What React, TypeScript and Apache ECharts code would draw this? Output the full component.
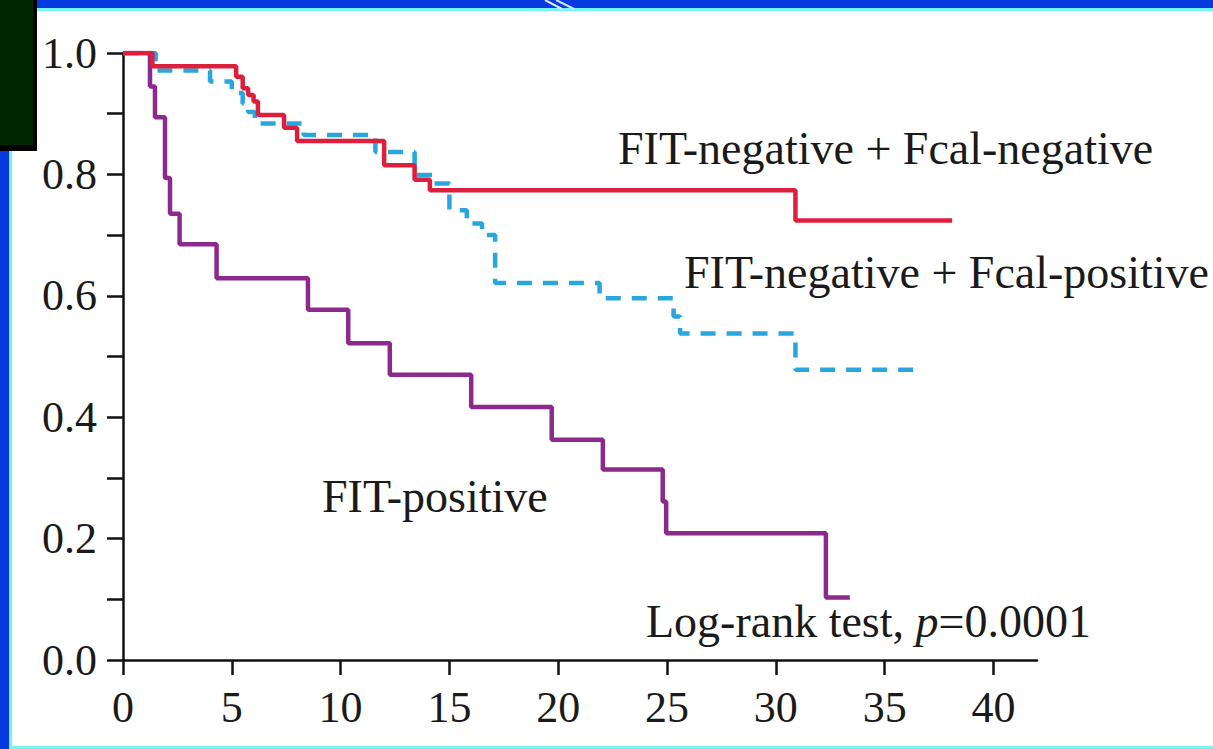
import React, { useEffect, useRef } from "react";
import * as echarts from "echarts";

// ---- data ----
const xTickValues = [0, 5, 10, 15, 20, 25, 30, 35, 40];

// FIT-negative + Fcal-negative (red, solid)
const negNegTimes = [0, 1.35, 5.2, 5.5, 5.75, 6.0, 6.2, 7.4, 8.0, 12.0, 13.4, 14.1, 30.9, 38.1];
const negNegSurv = [1.0, 0.978, 0.961, 0.942, 0.931, 0.92, 0.898, 0.877, 0.855, 0.815, 0.791, 0.774, 0.724, 0.724];

// FIT-negative + Fcal-positive (blue, dashed)
const negPosTimes = [0, 1.5, 4.0, 5.0, 5.5, 5.75, 6.06, 8.3, 11.6, 13.4, 14.2, 15.0, 15.8, 16.5, 17.1, 21.9, 25.3, 25.6, 30.9, 36.7];
const negPosSurv = [1.0, 0.971, 0.953, 0.934, 0.917, 0.903, 0.884, 0.865, 0.837, 0.799, 0.785, 0.741, 0.719, 0.7, 0.621, 0.596, 0.566, 0.538, 0.478, 0.478];

// FIT-positive (purple, solid)
const fitPosTimes = [0, 1.24, 1.47, 1.93, 2.16, 2.6, 4.3, 8.5, 10.35, 12.26, 16.0, 19.7, 22.05, 24.8, 24.96, 32.3, 33.4];
const fitPosSurv = [1.0, 0.945, 0.894, 0.794, 0.735, 0.685, 0.629, 0.577, 0.522, 0.47, 0.417, 0.363, 0.314, 0.261, 0.209, 0.103, 0.103];

const labelNegNeg = "FIT-negative + Fcal-negative";
const labelNegPos = "FIT-negative + Fcal-positive";
const labelFitPos = "FIT-positive";
const labelTest = "Log-rank test, {it|p}=0.0001";

const zip = (t: number[], s: number[]) => t.map((v, i) => [v, s[i]]);

const FONT = "Liberation Serif";
const TEXT = "#1a1a1a";
const AXIS = "#111111";

export default function App() {
  const ref = useRef<HTMLDivElement>(null);

  useEffect(() => {
    if (!ref.current) return;
    const chart = echarts.init(ref.current, null, { renderer: "svg" });
    const annot = (text: string, x: number, y: number) => ({
      type: "text",
      x,
      y,
      z: 10,
      style: {
        text,
        fontSize: 46,
        fontFamily: FONT,
        fill: TEXT,
        verticalAlign: "middle",
        align: "left",
        rich: { it: { fontStyle: "italic", fontSize: 46, fontFamily: FONT, fill: TEXT } },
      },
    });
    chart.setOption({
      animation: false,
      backgroundColor: "#ffffff",
      grid: { left: 123, top: 53, right: 176, bottom: 89, containLabel: false },
      xAxis: {
        type: "value",
        min: 0,
        max: 42,
        interval: 5,
        splitLine: { show: false },
        axisLine: { show: true, lineStyle: { color: AXIS, width: 2.5 } },
        axisTick: { show: true, length: 15, customValues: xTickValues, lineStyle: { color: AXIS, width: 2.5 } },
        axisLabel: {
          customValues: xTickValues,
          margin: 25,
          fontSize: 44,
          fontFamily: FONT,
          color: TEXT,
          formatter: (v: number) => (Math.abs(v % 5) < 1e-6 ? String(v) : ""),
        },
      },
      yAxis: {
        type: "value",
        min: 0,
        max: 1,
        interval: 0.1,
        splitLine: { show: false },
        axisLine: { show: true, lineStyle: { color: AXIS, width: 2.5 } },
        axisTick: { show: true, length: 16, lineStyle: { color: AXIS, width: 2.5 } },
        axisLabel: {
          margin: 26,
          fontSize: 44,
          fontFamily: FONT,
          color: TEXT,
          formatter: (v: number) => (Math.round(v * 10) % 2 === 0 ? v.toFixed(1) : ""),
        },
      },
      series: [
        {
          name: labelNegPos,
          type: "line",
          step: "end",
          symbol: "none",
          data: zip(negPosTimes, negPosSurv),
          lineStyle: { color: "#2aa6df", width: 4.5, type: [15, 11] },
          z: 2,
        },
        {
          name: labelFitPos,
          type: "line",
          step: "end",
          symbol: "none",
          data: zip(fitPosTimes, fitPosSurv),
          lineStyle: { color: "#8b2a8c", width: 4.5 },
          z: 3,
        },
        {
          name: labelNegNeg,
          type: "line",
          step: "end",
          symbol: "none",
          data: zip(negNegTimes, negNegSurv),
          lineStyle: { color: "#dc1f3c", width: 4.5 },
          z: 4,
        },
      ],
      graphic: [
        // frame decorations
        { type: "rect", shape: { x: 0, y: 0, width: 1213, height: 8 }, style: { fill: "#063ade" }, z: 20 },
        { type: "rect", shape: { x: 0, y: 8, width: 1213, height: 3 }, style: { fill: "#74f4f4" }, z: 20 },
        { type: "line", shape: { x1: 545, y1: 0, x2: 562, y2: 9 }, style: { stroke: "#dfe8ff", lineWidth: 2 }, z: 21 },
        { type: "line", shape: { x1: 556, y1: 0, x2: 574, y2: 9 }, style: { stroke: "#cfe0ff", lineWidth: 2 }, z: 21 },
        { type: "rect", shape: { x: 0, y: 0, width: 9, height: 749 }, style: { fill: "#063ade" }, z: 20 },
        { type: "rect", shape: { x: 9, y: 8, width: 3, height: 741 }, style: { fill: "#74f4f4" }, z: 20 },
        { type: "rect", shape: { x: 9, y: 746, width: 1204, height: 3 }, style: { fill: "#74f4f4" }, z: 20 },
        { type: "rect", shape: { x: 0, y: 0, width: 37, height: 151 }, style: { fill: "#000000" }, z: 22 },
        { type: "rect", shape: { x: 0, y: 0, width: 33, height: 145 }, style: { fill: "#002800" }, z: 23 },
        // annotations
        annot(labelNegNeg, 618, 148),
        annot(labelNegPos, 684, 272),
        annot(labelFitPos, 322, 496),
        annot(labelTest, 646, 621),
      ],
    });
    return () => chart.dispose();
  }, []);

  return (
    <div
      ref={ref}
      style={{ position: "fixed", left: 0, top: 0, width: 1213, height: 749, background: "#ffffff" }}
    />
  );
}
